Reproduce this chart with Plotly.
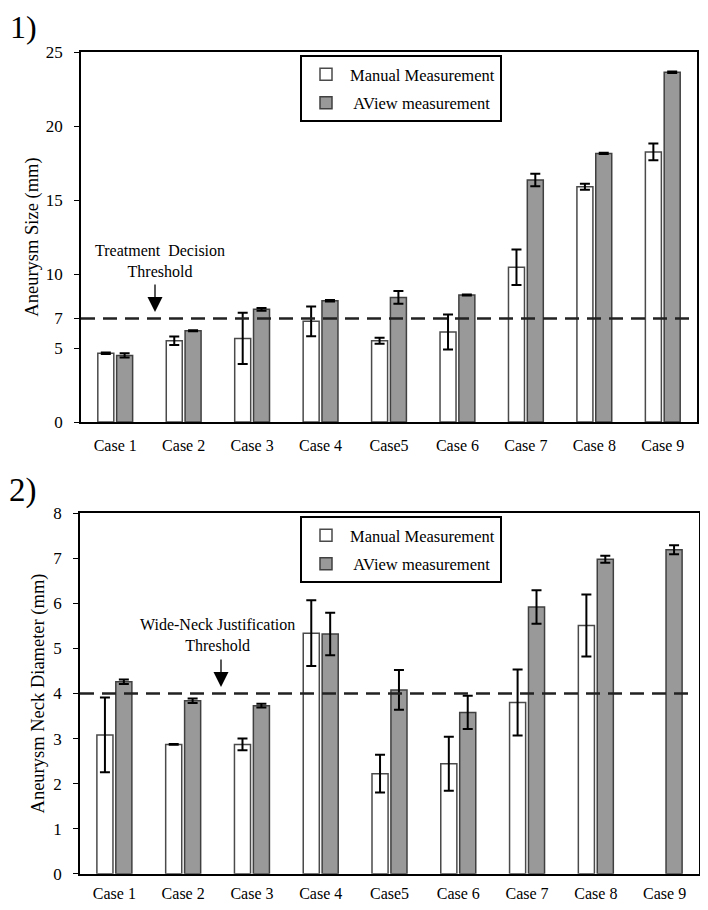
import plotly.graph_objects as go

cases = ["Case 1", "Case 2", "Case 3", "Case 4", "Case5", "Case 6", "Case 7", "Case 8", "Case 9"]

# Chart 1: aneurysm size (mm)
size_manual = [4.65, 5.49, 5.65, 6.80, 5.49, 6.08, 10.45, 15.9, 18.25]
size_manual_err = [0.05, 0.28, 1.73, 1.0, 0.2, 1.18, 1.2, 0.2, 0.57]
size_aview = [4.5, 6.17, 7.61, 8.2, 8.42, 8.58, 16.35, 18.15, 23.63]
size_aview_err = [0.15, 0.03, 0.1, 0.05, 0.43, 0.03, 0.42, 0.05, 0.05]
size_ticks = [0, 5, 7, 10, 15, 20, 25]

# Chart 2: aneurysm neck diameter (mm) -- Case 9 has no manual value
neck_manual = [3.08, 2.87, 2.87, 5.34, 2.22, 2.44, 3.80, 5.51, None]
neck_manual_err = [0.83, 0.01, 0.13, 0.73, 0.42, 0.6, 0.73, 0.69, None]
neck_aview = [4.26, 3.84, 3.73, 5.32, 4.08, 3.58, 5.92, 6.98, 7.19]
neck_aview_err = [0.05, 0.05, 0.04, 0.47, 0.44, 0.37, 0.37, 0.08, 0.1]
neck_ticks = [0, 1, 2, 3, 4, 5, 6, 7, 8]

thresholds = [7, 4]
series_names = ["Manual Measurement", " AView measurement"]

FONT = "Liberation Serif, Times New Roman, serif"
# page body has an 8px margin: figure occupies screen 8..700 x 8..902
OFF = 8
FW, FH = 700, 894

def px(X):
    return (X - OFF) / FW

def py(Y):
    return 1 - (Y - OFF) / FH

fig = go.Figure()

def add_pair(xa, ya, manual, merr, aview, aerr, legend):
    fig.add_trace(go.Bar(
        x=cases, y=manual, name=series_names[0], xaxis=xa, yaxis=ya,
        marker=dict(color="white", line=dict(color="#4a4a4a", width=1.5)),
        error_y=dict(type="data", array=merr, color="black", thickness=2, width=5),
        legend=legend, legendgroup=legend + "m",
    ))
    fig.add_trace(go.Bar(
        x=cases, y=aview, name=series_names[1], xaxis=xa, yaxis=ya,
        marker=dict(color="#999999", line=dict(color="#404040", width=1.5)),
        error_y=dict(type="data", array=aerr, color="black", thickness=2, width=5),
        legend=legend, legendgroup=legend + "a",
    ))

add_pair("x", "y", size_manual, size_manual_err, size_aview, size_aview_err, "legend")
add_pair("x2", "y2", neck_manual, neck_manual_err, neck_aview, neck_aview_err, "legend2")

axis_common = dict(showline=True, linecolor="black", linewidth=1.5, mirror=True,
                   showgrid=False, zeroline=False, automargin=False)

legend_common = dict(xanchor="left", yanchor="top", bordercolor="black", borderwidth=2,
                     bgcolor="white", font=dict(size=16.5), traceorder="grouped",
                     tracegroupgap=4, itemwidth=38)

fig.update_layout(
    width=FW, height=FH,
    margin=dict(l=0, r=0, t=0, b=0),
    paper_bgcolor="white", plot_bgcolor="white",
    font=dict(family=FONT, color="black"),
    barmode="group", bargap=0.45, bargroupgap=0.15,
    xaxis=dict(domain=[px(81), px(697)], anchor="y", ticks="", ticklabelstandoff=8,
               tickfont=dict(size=16), **axis_common),
    yaxis=dict(domain=[py(422), py(52)], anchor="x", range=[0, 25],
               tickvals=size_ticks, ticks="outside", ticklen=5, tickcolor="black",
               tickfont=dict(size=17), ticklabelstandoff=8,
               title=dict(text="Aneurysm Size (mm)", font=dict(size=18.5), standoff=2),
               **axis_common),
    xaxis2=dict(domain=[px(80), px(699)], anchor="y2", ticks="", ticklabelstandoff=4,
                tickfont=dict(size=16), **axis_common),
    yaxis2=dict(domain=[py(873.7), py(513.3)], anchor="x2", range=[0, 8],
                tickvals=neck_ticks, ticks="outside", ticklen=5, tickcolor="black",
                tickfont=dict(size=17), ticklabelstandoff=8,
                title=dict(text="Aneurysm Neck Diameter (mm)", font=dict(size=18.5), standoff=4),
                **axis_common),
    legend=dict(x=px(300), y=py(55), **legend_common),
    legend2=dict(x=px(300), y=py(516), **legend_common),
)

# threshold dashed lines
for i, (xr, yr) in enumerate([("x domain", "y"), ("x2 domain", "y2")]):
    fig.add_shape(type="line", xref=xr, yref=yr, x0=0, x1=0.993,
                  y0=thresholds[i], y1=thresholds[i],
                  line=dict(color="#222222", width=2.5, dash="14px,8px"), layer="above")

# threshold labels and arrows
fig.add_annotation(xref="paper", yref="paper", x=px(160), y=py(261),
                   text="Treatment  Decision<br>Threshold", showarrow=False,
                   xanchor="center", yanchor="middle",
                   font=dict(size=16, family=FONT), align="center")
fig.add_annotation(xref="paper", yref="paper", x=px(155), y=py(312),
                   ax=0, ay=-29, text="", showarrow=True, arrowhead=2, arrowsize=2.3,
                   arrowwidth=1.3, arrowcolor="black")
fig.add_annotation(xref="paper", yref="paper", x=px(217), y=py(635),
                   text="Wide-Neck Justification<br>Threshold", showarrow=False,
                   xanchor="center", yanchor="middle",
                   font=dict(size=16, family=FONT), align="center")
fig.add_annotation(xref="paper", yref="paper", x=px(221), y=py(687),
                   ax=0, ay=-29, text="", showarrow=True, arrowhead=2, arrowsize=2.3,
                   arrowwidth=1.3, arrowcolor="black")

# panel labels
fig.add_annotation(xref="paper", yref="paper", x=px(9), y=1, text="1)",
                   showarrow=False, xanchor="left", yanchor="top", borderpad=0,
                   font=dict(size=32, family=FONT))
fig.add_annotation(xref="paper", yref="paper", x=px(7), y=py(490), text="2)",
                   showarrow=False, xanchor="left", yanchor="middle",
                   font=dict(size=33, family=FONT))

fig.write_html("out.html")
